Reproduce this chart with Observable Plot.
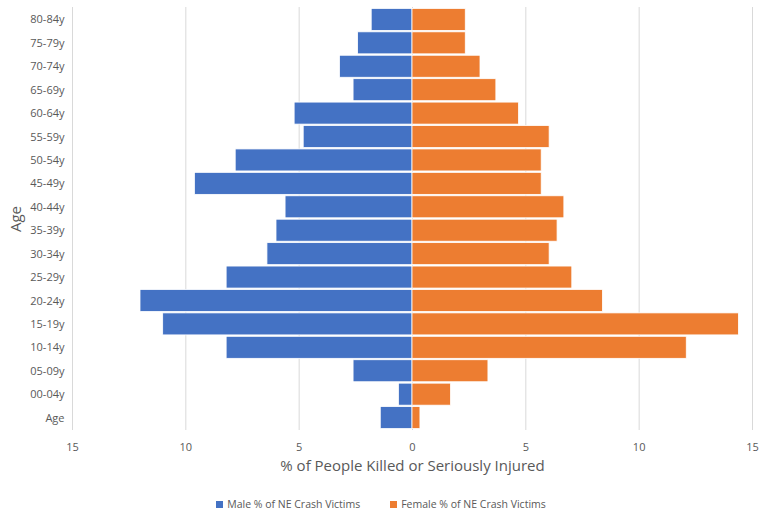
<!DOCTYPE html>
<html>
<head>
<meta charset="utf-8">
<script src="https://cdn.jsdelivr.net/npm/d3@7"></script>
<script src="https://cdn.jsdelivr.net/npm/@observablehq/plot@0.6"></script>
<style>
  body { margin: 0; background: #fff; font-family: "Open Sans", "Liberation Sans", sans-serif; }
  #legend { display: flex; justify-content: center; gap: 30px; font-size: 10.5px; color: #595959; margin-top: 9px; }
  #legend span.sw { display: inline-block; width: 7px; height: 7px; margin-right: 4px; }
</style>
</head>
<body>
<div id="chart"></div>
<div id="legend"></div>
<script>
const ageGroups = ["80-84y","75-79y","70-74y","65-69y","60-64y","55-59y","50-54y","45-49y","40-44y","35-39y","30-34y","25-29y","20-24y","15-19y","10-14y","05-09y","00-04y","Age"];
const maleValues = [1.8,2.4,3.2,2.6,5.2,4.8,7.8,9.6,5.6,6.0,6.4,8.2,12.0,11.0,8.2,2.6,0.6,1.4];
const femaleValues = [2.35,2.35,3.0,3.7,4.7,6.05,5.7,5.7,6.7,6.4,6.05,7.05,8.4,14.4,12.1,3.35,1.7,0.35];
const xTicks = [-15,-10,-5,0,5,10,15];
const seriesNames = ["Male % of NE Crash Victims","Female % of NE Crash Victims"];
const seriesColors = ["#4472C4","#ED7D31"];

const rows = ageGroups.flatMap((a, i) => [
  {age: a, series: seriesNames[0], v: -maleValues[i]},
  {age: a, series: seriesNames[1], v: femaleValues[i]}
]);

const chart = Plot.plot({
  width: 762,
  height: 488,
  marginLeft: 72,
  marginRight: 10,
  marginTop: 7,
  marginBottom: 58,
  style: {fontFamily: "'Open Sans', 'Liberation Sans', sans-serif", fontSize: "11px", color: "#595959", background: "transparent"},
  x: {domain: [-15, 15], ticks: xTicks, tickFormat: d => Math.abs(d), tickSize: 0, tickPadding: 13, label: null},
  y: {domain: ageGroups, padding: 0.06, round: false, tickSize: 0, tickPadding: 8, label: null},
  color: {domain: seriesNames, range: seriesColors},
  marks: [
    Plot.ruleX(xTicks, {stroke: "#d9d9d9", strokeWidth: 1}),
    Plot.barX(rows, {y: "age", x1: 0, x2: "v", fill: "series", stroke: "white", strokeWidth: 0.8}),
    Plot.axisX({ticks: xTicks, tickFormat: d => Math.abs(d), tickSize: 0, tickPadding: 13, label: null, fontSize: 11}),
    Plot.axisY({tickSize: 0, tickPadding: 8, label: null, fontSize: 11}),
    Plot.text(["% of People Killed or Seriously Injured"], {frameAnchor: "bottom", dy: 30, text: d => d, fontSize: 15, fill: "#595959", lineAnchor: "top"}),
    Plot.text(["Age"], {frameAnchor: "left", dx: -56, rotate: -90, textAnchor: "middle", text: d => d, fontSize: 15, fill: "#595959"})
  ]
});
document.getElementById("chart").appendChild(chart);

const legend = document.getElementById("legend");
seriesNames.forEach((n, i) => {
  const item = document.createElement("div");
  item.innerHTML = `<span class="sw" style="background:${seriesColors[i]}"></span>${n}`;
  legend.appendChild(item);
});
</script>
</body>
</html>
